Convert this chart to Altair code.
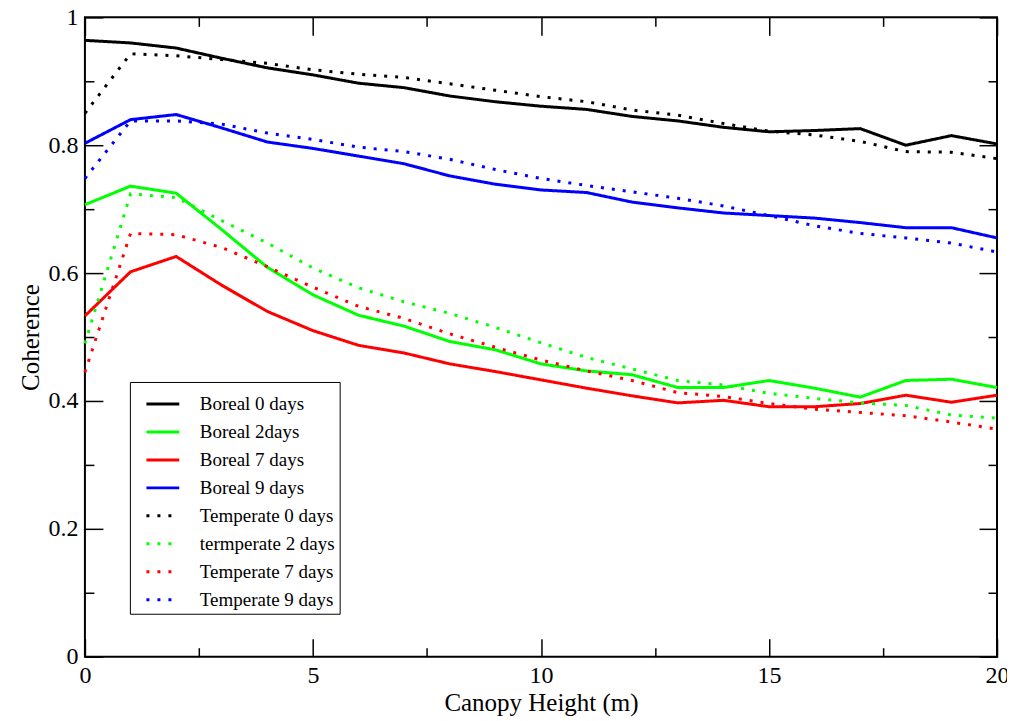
import altair as alt
import pandas as pd

heights = list(range(21))

series_names = [
    "Boreal 0 days", "Boreal 2days", "Boreal 7 days", "Boreal 9 days",
    "Temperate 0 days", "termperate 2 days", "Temperate 7 days", "Temperate 9 days",
]
series_colors = ["#000000", "#00ff00", "#ff0000", "#0000ff",
                 "#000000", "#00ff00", "#ff0000", "#0000ff"]

boreal0 = [0.964, 0.960, 0.952, 0.936, 0.921, 0.910, 0.897, 0.890, 0.877, 0.868, 0.861,
           0.856, 0.845, 0.838, 0.828, 0.821, 0.823, 0.826, 0.800, 0.815, 0.802]
boreal2 = [0.707, 0.736, 0.725, 0.668, 0.609, 0.566, 0.534, 0.517, 0.493, 0.480, 0.458,
           0.447, 0.441, 0.421, 0.421, 0.432, 0.420, 0.406, 0.432, 0.434, 0.421]
boreal7 = [0.533, 0.602, 0.626, 0.581, 0.540, 0.510, 0.487, 0.475, 0.458, 0.446, 0.433,
           0.420, 0.408, 0.397, 0.401, 0.391, 0.391, 0.396, 0.409, 0.398, 0.409]
boreal9 = [0.803, 0.840, 0.848, 0.827, 0.805, 0.795, 0.783, 0.771, 0.752, 0.739, 0.730,
           0.726, 0.711, 0.702, 0.694, 0.690, 0.686, 0.679, 0.671, 0.671, 0.655]
temperate0 = [0.850, 0.943, 0.940, 0.934, 0.928, 0.918, 0.911, 0.906, 0.896, 0.886, 0.876,
              0.868, 0.855, 0.847, 0.834, 0.822, 0.816, 0.806, 0.790, 0.789, 0.779]
temperate2 = [0.490, 0.724, 0.718, 0.682, 0.647, 0.608, 0.577, 0.555, 0.537, 0.515, 0.491,
              0.468, 0.450, 0.432, 0.425, 0.412, 0.404, 0.397, 0.393, 0.378, 0.373]
temperate7 = [0.445, 0.662, 0.660, 0.640, 0.610, 0.578, 0.548, 0.529, 0.505, 0.484, 0.464,
              0.447, 0.432, 0.413, 0.407, 0.396, 0.387, 0.382, 0.377, 0.367, 0.356]
temperate9 = [0.748, 0.838, 0.838, 0.833, 0.819, 0.809, 0.797, 0.790, 0.778, 0.762, 0.748,
              0.737, 0.727, 0.717, 0.705, 0.690, 0.674, 0.662, 0.655, 0.647, 0.633]

all_values = [boreal0, boreal2, boreal7, boreal9, temperate0, temperate2, temperate7, temperate9]

x_major = [0, 5, 10, 15, 20]
x_minor = [2.5, 7.5, 12.5, 17.5]
y_major = [0, 0.2, 0.4, 0.6, 0.8, 1.0]
y_minor = [0.1, 0.3, 0.5, 0.7, 0.9]

rows = []
for name, vals in zip(series_names, all_values):
    for h, v in zip(heights, vals):
        rows.append({"height": h, "coherence": v, "series": name})
df = pd.DataFrame(rows)

W, H = 913, 640
FONT = "Liberation Serif"

dash_range = [[1, 0]] * 4 + [[3, 8]] * 4

main = alt.Chart(df).mark_line(strokeWidth=3, strokeCap="butt").encode(
    x=alt.X("height:Q", scale=alt.Scale(domain=[0, 20], nice=False),
            axis=alt.Axis(values=x_major, format="d", ticks=False, tickSize=0, domain=False,
                          grid=False, labelPadding=7, labelFlush=False,
                          title="Canopy Height (m)", titlePadding=3, orient="bottom")),
    y=alt.Y("coherence:Q", scale=alt.Scale(domain=[0, 1], nice=False),
            axis=alt.Axis(values=y_major, format=".1~f", ticks=False, tickSize=0, domain=False,
                          grid=False, labelPadding=7, labelFlush=False, title="Coherence",
                          titlePadding=4, orient="left")),
    color=alt.Color("series:N", scale=alt.Scale(domain=series_names, range=series_colors),
                    sort=series_names,
                    legend=alt.Legend(title=None, orient="none", legendX=45, legendY=365,
                                      symbolType="stroke", symbolSize=1080,
                                      symbolStrokeWidth=3, symbolOffset=11,
                                      labelFont=FONT, labelFontSize=19,
                                      labelColor="black", labelOffset=19, labelLimit=400,
                                      padding=4, rowPadding=0, strokeColor="black",
                                      fillColor="white")),
    strokeDash=alt.StrokeDash("series:N", scale=alt.Scale(domain=series_names, range=dash_range),
                              sort=series_names, legend=None),
)


def tick_layer(xvals, yvals, size, x_orient, y_orient):
    return alt.Chart(df).mark_point(opacity=0).encode(
        x=alt.X("height:Q", axis=alt.Axis(values=xvals, labels=False, domain=False, grid=False,
                                          ticks=True, tickSize=size, tickWidth=1.5,
                                          tickColor="black", title=None, orient=x_orient,
                                          offset=-H)),
        y=alt.Y("coherence:Q", axis=alt.Axis(values=yvals, labels=False, domain=False,
                                             grid=False, ticks=True, tickSize=size,
                                             tickWidth=1.5, tickColor="black", title=None,
                                             orient=y_orient, offset=-W)),
    )


chart = alt.layer(
    main,
    tick_layer(x_major, y_major, 18, "top", "right"),
    tick_layer(x_minor, y_minor, 9, "top", "right"),
    tick_layer(x_major, y_major, 18, "bottom", "left"),
    tick_layer(x_minor, y_minor, 9, "bottom", "left"),
).resolve_axis(x="independent", y="independent").properties(
    width=W, height=H,
    autosize=alt.AutoSizeParams(type="none"),
    padding={"left": 77, "top": 9, "right": 10, "bottom": 60},
).configure_view(
    stroke="black", strokeWidth=2
).configure_axis(
    labelFont=FONT, labelFontSize=24, labelColor="black",
    titleFont=FONT, titleFontSize=25, titleFontWeight="normal", titleColor="black",
)

chart.save("out.html", embed_options={"renderer": "svg", "actions": False})
